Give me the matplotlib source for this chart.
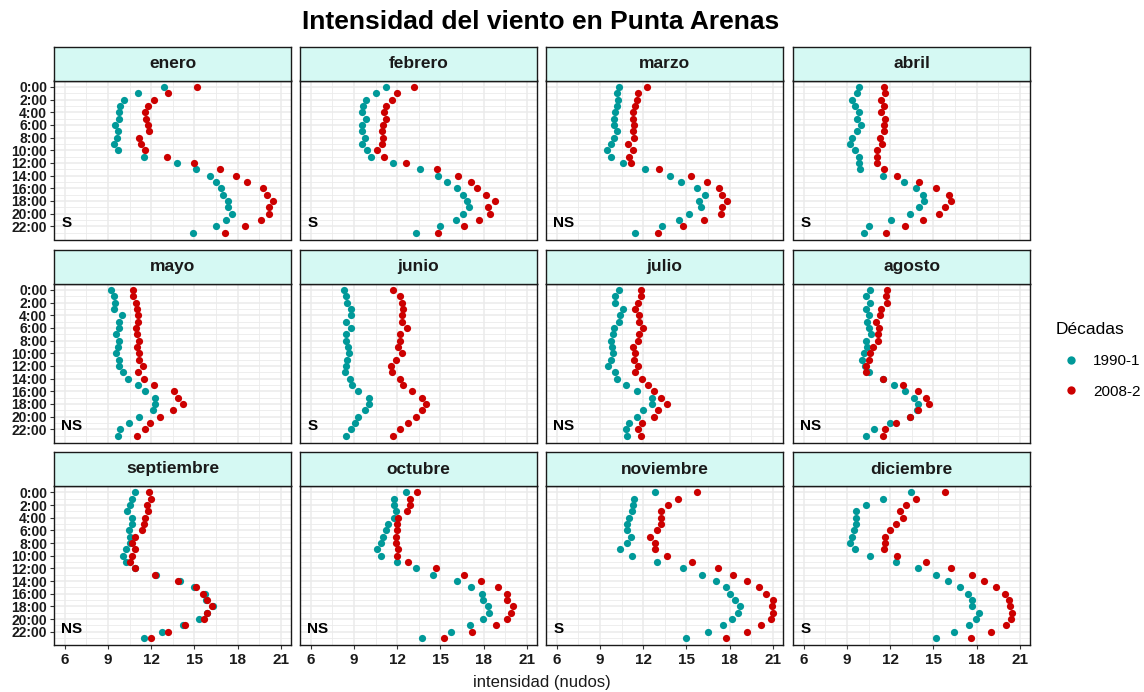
import matplotlib
matplotlib.use("Agg")
import matplotlib.pyplot as plt
from matplotlib.lines import Line2D
from matplotlib.ticker import FixedLocator

plt.rcParams['font.family'] = ['Liberation Sans', 'DejaVu Sans']

# ---- data ---------------------------------------------------------------
meses = ["enero", "febrero", "marzo", "abril", "mayo", "junio",
         "julio", "agosto", "septiembre", "octubre", "noviembre", "diciembre"]
horas = list(range(24))
horas_etiquetadas = list(range(0, 24, 2))
etiquetas_horas = [f"{h}:00" for h in horas_etiquetadas]
ticks_x = [6, 9, 12, 15, 18, 21]
decadas = ["1990-1", "2008-2"]
significancia = ["S", "S", "NS", "S", "NS", "S", "NS", "NS", "NS", "NS", "S", "S"]

enero_1990 = [12.88, 11.07, 10.12, 9.84, 9.74, 9.77, 9.49, 9.67, 9.65, 9.40, 9.67, 11.51,
              13.77, 15.09, 16.05, 16.49, 16.81, 17.00, 17.35, 17.35, 17.60, 17.16, 16.49, 14.91]
enero_2008 = [15.16, 13.16, 12.21, 11.77, 11.58, 11.67, 11.77, 11.86, 11.16, 11.26, 11.58, 13.07,
              14.98, 16.74, 17.88, 18.65, 19.79, 20.05, 20.42, 20.14, 20.14, 19.60, 18.49, 17.09]
febrero_1990 = [11.20, 10.51, 9.81, 9.65, 9.56, 9.81, 9.56, 9.56, 9.74, 9.56, 9.93, 10.16,
                11.73, 13.56, 14.85, 15.45, 16.15, 16.58, 16.84, 17.00, 16.58, 16.05, 14.94, 13.28]
febrero_2008 = [13.19, 11.99, 11.64, 11.20, 11.11, 11.20, 11.04, 10.95, 11.04, 10.95, 10.60, 11.11,
                12.59, 14.76, 16.24, 17.09, 17.53, 18.13, 18.76, 18.32, 18.41, 17.69, 16.65, 14.85]
marzo_1990 = [10.33, 10.17, 10.26, 10.17, 10.07, 9.98, 9.98, 10.17, 9.98, 9.73, 9.47, 9.73,
              10.58, 12.09, 13.89, 14.59, 15.72, 16.32, 15.88, 15.98, 15.19, 14.50, 13.29, 11.46]
marzo_2008 = [12.25, 11.65, 11.56, 11.46, 11.28, 11.28, 11.37, 11.28, 11.37, 10.95, 11.28, 11.02,
              11.12, 13.11, 15.28, 16.42, 17.27, 17.46, 17.81, 17.46, 17.37, 16.23, 14.77, 13.01]
abril_1990 = [9.81, 9.72, 9.37, 9.56, 9.81, 9.72, 10.00, 9.72, 9.37, 9.21, 9.56, 9.81,
              9.81, 9.88, 11.48, 12.96, 13.81, 14.25, 14.34, 14.00, 13.37, 12.08, 10.51, 10.16]
abril_2008 = [11.55, 11.64, 11.36, 11.55, 11.36, 11.64, 11.55, 11.55, 11.27, 11.45, 11.11, 11.11,
              11.11, 11.55, 12.49, 14.00, 15.20, 16.05, 16.24, 15.80, 15.36, 14.25, 13.03, 11.73]
mayo_1990 = [9.21, 9.42, 9.51, 9.42, 9.95, 9.77, 9.77, 9.58, 9.77, 9.67, 9.58, 9.77,
             9.77, 10.02, 10.37, 11.05, 11.58, 12.28, 12.28, 12.12, 11.14, 10.44, 9.84, 9.67]
mayo_2008 = [10.72, 10.72, 10.91, 10.98, 11.07, 11.07, 10.91, 10.98, 11.16, 10.98, 11.16, 11.16,
             11.42, 11.07, 11.51, 12.21, 13.56, 13.88, 14.21, 13.51, 12.58, 11.93, 11.60, 10.98]
junio_1990 = [8.33, 8.45, 8.54, 8.77, 8.77, 8.43, 8.77, 8.43, 8.43, 8.61, 8.68, 8.52,
              8.45, 8.36, 8.70, 8.87, 9.30, 10.07, 10.07, 9.74, 9.30, 9.05, 8.77, 8.45]
junio_2008 = [11.73, 12.17, 12.33, 12.42, 12.33, 12.33, 12.68, 12.17, 12.17, 12.08, 12.33, 11.89,
              11.55, 11.64, 12.17, 12.42, 13.03, 13.72, 13.97, 13.72, 13.28, 12.77, 12.17, 11.73]
julio_1990 = [10.33, 10.07, 10.07, 10.61, 10.42, 10.35, 9.98, 9.89, 9.73, 9.82, 9.89, 9.73,
              9.56, 10.07, 10.17, 10.77, 11.56, 12.60, 12.60, 12.00, 11.56, 11.02, 10.77, 10.86]
julio_2008 = [11.81, 11.81, 11.65, 11.46, 11.72, 11.72, 12.00, 11.72, 11.65, 11.28, 11.46, 11.37,
              11.65, 11.46, 11.90, 12.34, 12.78, 13.20, 13.64, 13.04, 12.78, 11.90, 11.65, 11.81]
agosto_1990 = [10.60, 10.34, 10.60, 10.34, 10.51, 10.41, 10.51, 10.69, 10.34, 10.41, 10.16, 10.07,
               10.25, 10.51, 11.48, 12.24, 13.03, 13.63, 13.90, 13.88, 13.35, 11.99, 10.85, 10.34]
agosto_2008 = [11.80, 11.73, 11.80, 11.38, 11.29, 11.04, 11.20, 11.13, 11.13, 10.78, 10.60, 10.51,
               10.34, 10.34, 11.48, 12.86, 13.90, 14.50, 14.69, 13.90, 13.37, 12.42, 11.64, 11.48]
septiembre_1990 = [10.88, 10.63, 10.53, 10.35, 10.63, 10.63, 10.44, 10.53, 10.53, 10.28, 10.02, 10.28,
                   10.88, 12.33, 14.02, 14.95, 15.70, 15.77, 16.28, 15.88, 15.30, 14.21, 12.72, 11.51]
septiembre_2008 = [11.86, 11.95, 11.70, 11.77, 11.60, 11.51, 11.33, 10.88, 10.63, 10.88, 10.63, 10.53,
                   10.88, 12.28, 13.86, 15.14, 15.60, 15.86, 16.21, 15.86, 15.67, 14.37, 13.16, 11.95]
octubre_1990 = [12.59, 11.80, 11.80, 11.89, 11.80, 11.36, 11.20, 11.04, 10.85, 10.60, 10.85, 11.99,
                13.28, 14.48, 16.17, 17.09, 17.88, 17.97, 18.32, 18.39, 17.97, 17.02, 15.71, 13.72]
octubre_2008 = [13.37, 12.86, 12.86, 12.68, 12.08, 11.99, 11.99, 11.89, 11.89, 12.08, 11.99, 12.77,
                14.67, 16.65, 17.79, 18.99, 19.61, 19.61, 20.05, 19.87, 19.61, 18.83, 17.19, 15.27]
noviembre_1990 = [12.85, 11.37, 11.28, 11.21, 11.02, 10.86, 10.86, 11.12, 10.86, 10.42, 11.21, 12.94,
                  14.77, 16.07, 17.02, 17.74, 17.99, 18.34, 18.69, 18.59, 18.15, 17.55, 16.49, 14.94]
noviembre_2008 = [15.70, 14.43, 13.71, 13.20, 13.20, 13.20, 12.94, 12.50, 12.85, 12.85, 13.64, 15.38,
                  17.20, 18.25, 19.19, 20.05, 20.49, 21.00, 20.93, 21.00, 20.84, 20.14, 19.19, 17.71]
diciembre_1990 = [13.46, 11.48, 10.34, 9.65, 9.65, 9.65, 9.47, 9.37, 9.21, 9.56, 10.60, 12.42,
                  13.90, 15.20, 15.98, 16.84, 17.37, 17.69, 17.69, 18.13, 17.97, 17.44, 16.40, 15.20]
diciembre_2008 = [15.80, 13.81, 13.12, 12.68, 12.86, 12.42, 11.99, 11.64, 11.64, 11.55, 12.49, 14.50,
                  16.24, 17.69, 18.48, 19.36, 19.96, 20.21, 20.31, 20.47, 20.38, 20.05, 18.99, 17.62]

serie_1990 = [enero_1990, febrero_1990, marzo_1990, abril_1990, mayo_1990, junio_1990,
              julio_1990, agosto_1990, septiembre_1990, octubre_1990, noviembre_1990, diciembre_1990]
serie_2008 = [enero_2008, febrero_2008, marzo_2008, abril_2008, mayo_2008, junio_2008,
              julio_2008, agosto_2008, septiembre_2008, octubre_2008, noviembre_2008, diciembre_2008]

# ---- style --------------------------------------------------------------
COL_1990 = "#009999"
COL_2008 = "#CC0000"
STRIP = "#D5F9F3"
GRID = "#EBEBEB"

W, H = 1144, 692
fig = plt.figure(figsize=(W / 100, H / 100), dpi=100)

col_left = [54, 300, 546, 793]
panel_w = 237
row_top = [80.5, 283.5, 486]
panel_h = 159
strip_h = 34


def frac_box(x, y, w, h):
    return [x / W, 1 - (y + h) / H, w / W, h / H]


for i, mes in enumerate(meses):
    r, c = divmod(i, 4)
    x0, y0 = col_left[c], row_top[r]
    ax = fig.add_axes(frac_box(x0, y0, panel_w, panel_h))
    ax.set_xlim(5.25, 21.7)
    ax.set_ylim(24.1, -1.0)

    ax.xaxis.set_major_locator(FixedLocator(ticks_x))
    ax.xaxis.set_minor_locator(FixedLocator([t + 1.5 for t in ticks_x[:-1]]))
    ax.yaxis.set_major_locator(FixedLocator(horas_etiquetadas))
    ax.yaxis.set_minor_locator(FixedLocator([h for h in horas if h % 2 == 1]))
    ax.grid(which="major", color=GRID, linewidth=1.1)
    ax.grid(which="minor", color=GRID, linewidth=0.6)
    ax.set_axisbelow(True)

    ax.scatter(serie_1990[i], horas, s=27, color=COL_1990, zorder=3, linewidths=0)
    ax.scatter(serie_2008[i], horas, s=27, color=COL_2008, zorder=4, linewidths=0)

    ax.text(5.75, 21.5, significancia[i], fontsize=11, fontweight="bold",
            ha="left", va="center", color="black", zorder=5)

    for sp in ax.spines.values():
        sp.set_color("#1a1a1a")
        sp.set_linewidth(1.0)

    ax.tick_params(which="minor", length=0)
    ax.tick_params(which="major", length=3, width=0.8, color="#333333")
    if c == 0:
        ax.set_yticklabels(etiquetas_horas, fontsize=10, fontweight="bold", color="#1a1a1a")
        ax.tick_params(axis="y", pad=2)
    else:
        ax.tick_params(axis="y", length=0, labelleft=False)
    if r == 2:
        ax.set_xticklabels([str(t) for t in ticks_x], fontsize=11, fontweight="bold", color="#1a1a1a")
        ax.tick_params(axis="x", pad=3)
    else:
        ax.tick_params(axis="x", length=0, labelbottom=False)

    # facet strip
    sax = fig.add_axes(frac_box(x0, y0 - strip_h, panel_w, strip_h))
    sax.set_facecolor(STRIP)
    sax.set_xticks([])
    sax.set_yticks([])
    for sp in sax.spines.values():
        sp.set_color("#1a1a1a")
        sp.set_linewidth(1.0)
    sax.text(0.5, 0.5, mes, transform=sax.transAxes, ha="center", va="center",
             fontsize=12.5, fontweight="bold", color="#1a1a1a")

fig.text(541 / W, 1 - 22 / H, "Intensidad del viento en Punta Arenas",
         ha="center", va="center", fontsize=19, fontweight="bold")
fig.text(542 / W, 1 - 683 / H, "intensidad (nudos)", ha="center", va="center",
         fontsize=12, color="#1a1a1a")

handles = [Line2D([], [], marker="o", linestyle="none", markersize=6,
                  markerfacecolor=col, markeredgewidth=0)
           for col in (COL_1990, COL_2008)]
leg = fig.legend(handles, decadas, title="Décadas", loc="upper left",
                 bbox_to_anchor=(1050 / W, 1 - 316 / H), frameon=False,
                 fontsize=11, title_fontsize=12.5, handletextpad=0.4,
                 labelspacing=1.1, borderaxespad=0)
leg._legend_box.align = "left"

fig.savefig("out.png", dpi=100)
